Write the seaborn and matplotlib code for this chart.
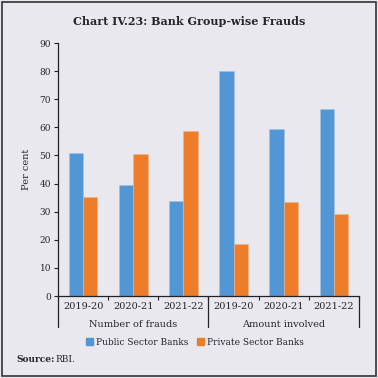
import matplotlib
matplotlib.use("Agg")
import matplotlib.pyplot as plt
import matplotlib.patches as mpatches
import matplotlib.transforms as mtransforms
import numpy as np
import pandas as pd
import seaborn as sns

# data
groups = ["Number of frauds", "Amount involved"]
years = ["2019-20", "2020-21", "2021-22"]
series = ["Public Sector Banks", "Private Sector Banks"]
public_vals = [50.7, 39.4, 33.8, 79.9, 59.4, 66.7]
private_vals = [35.1, 50.4, 58.7, 18.5, 33.4, 29.2]

bg = "#e9e8ef"
colors = ["#5296d5", "#ee7d2a"]
serif = ["DejaVu Serif"]

sns.set_theme(style="white")
plt.rcParams["font.family"] = serif

cats = [f"{g}|{y}" for g in groups for y in years]
df = pd.DataFrame({
    "cat": cats * 2,
    "value": public_vals + private_vals,
    "bank": [series[0]] * 6 + [series[1]] * 6,
})

fig = plt.figure(figsize=(3.78, 3.78), dpi=100, facecolor=bg)
fig.patches.append(mpatches.Rectangle((0.004, 0.004), 0.992, 0.992, transform=fig.transFigure,
                                      fill=False, edgecolor="#333333", linewidth=1.2))
ax = fig.add_axes([0.1534, 0.2169, 0.7963, 0.6693])
ax.set_facecolor(bg)

sns.barplot(data=df, x="cat", y="value", hue="bank", order=cats, hue_order=series,
            palette=colors, width=0.57, ax=ax, edgecolor="#f2b48a", linewidth=0.4,
            saturation=1, legend=False)
for bar, c in zip(ax.patches, [colors[0]] * 6 + [colors[1]] * 6):
    bar.set_edgecolor(sns.light_palette(c, n_colors=3)[1])

ax.set_xlim(-0.5, 5.5)
ax.set_ylim(0, 90)
ax.set_yticks(np.arange(0, 91, 10))
ax.tick_params(axis="y", labelsize=6.5, length=3, width=0.8, color="#222222", pad=2, left=True)
ax.set_xticks(range(6))
ax.set_xticklabels(years * 2, fontsize=7)
ax.tick_params(axis="x", length=0, pad=4)
ax.set_xticks(np.arange(-0.5, 6, 1), minor=True)
ax.tick_params(axis="x", which="minor", length=3, width=0.8, color="#222222", bottom=True)
ax.set_xlabel("")
ax.set_ylabel("Per cent", fontsize=7, labelpad=6)
for s in ["top", "right"]:
    ax.spines[s].set_visible(False)
for s in ["left", "bottom"]:
    ax.spines[s].set_color("#222222")
    ax.spines[s].set_linewidth(0.9)

# group separators and labels
trans = mtransforms.blended_transform_factory(ax.transData, ax.transAxes)
for xpos in [-0.5, 2.5, 5.5]:
    ax.plot([xpos, xpos], [0, -0.123], color="#222222", linewidth=0.9, transform=trans, clip_on=False)
for i, g in enumerate(groups):
    ax.text(1 + 3 * i, -0.112, g, transform=trans, ha="center", va="center", fontsize=7)

handles = [mpatches.Patch(color=c, label=s) for c, s in zip(colors, series)]
fig.legend(handles=handles, loc="center", bbox_to_anchor=(0.515, 0.095), ncol=2, frameon=False,
           fontsize=6.5, handlelength=0.8, handleheight=0.8, handletextpad=0.3, columnspacing=1.0)

fig.text(0.5, 0.944, "Chart IV.23: Bank Group-wise Frauds", ha="center", va="center",
         fontsize=8, fontweight="bold")
fig.text(0.042, 0.05, "Source:", ha="left", va="center", fontsize=6.5, fontweight="bold")
fig.text(0.148, 0.05, "RBI.", ha="left", va="center", fontsize=6.5)

fig.savefig("out.png", dpi=100, facecolor=bg)
